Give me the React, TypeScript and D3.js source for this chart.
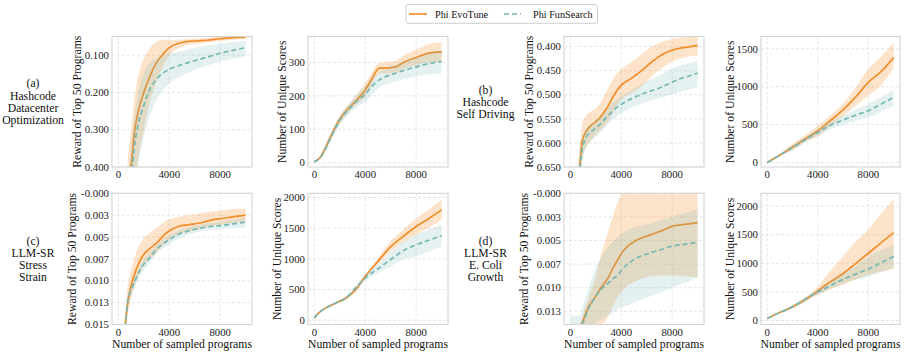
import * as d3 from "d3";

const FONT = "\"Liberation Serif\", \"Times New Roman\", serif";
const ORANGE = "#f28e2b";
const TEAL = "#76b7b2";

const xTicks = [0, 4000, 8000];
const xTickLabels = ["0", "4000", "8000"];

// (a) Hashcode Datacenter Optimization - reward
const xRewardA = [500, 800, 1000, 1250, 1500, 2000, 2500, 3000, 3500, 4000, 5000, 6000, 7000, 8000, 9000, 10000];
const evoRewardA = [0.6, 0.46, 0.4, 0.31, 0.26, 0.2, 0.155, 0.12, 0.098, 0.08, 0.066, 0.062, 0.06, 0.056, 0.053, 0.052];
const evoRewardABest = [0.5, 0.36, 0.3, 0.22, 0.165, 0.11, 0.08, 0.065, 0.058, 0.06, 0.058, 0.056, 0.054, 0.051, 0.049, 0.048];
const evoRewardAWorst = [0.8, 0.62, 0.55, 0.46, 0.39, 0.3, 0.22, 0.17, 0.13, 0.1, 0.078, 0.07, 0.066, 0.062, 0.059, 0.057];
const funRewardA = [0.75, 0.52, 0.44, 0.35, 0.295, 0.235, 0.19, 0.165, 0.148, 0.138, 0.125, 0.115, 0.105, 0.095, 0.087, 0.08];
const funRewardABest = [0.6, 0.42, 0.35, 0.27, 0.21, 0.15, 0.12, 0.108, 0.1, 0.095, 0.088, 0.08, 0.074, 0.069, 0.065, 0.062];
const funRewardAWorst = [0.95, 0.68, 0.58, 0.48, 0.41, 0.32, 0.26, 0.22, 0.195, 0.175, 0.155, 0.14, 0.128, 0.118, 0.11, 0.104];
const yTicksRewardA = [0.1, 0.2, 0.3, 0.4];
const yLabelsRewardA = ["0.100", "0.200", "0.300", "0.400"];

// (a) unique scores
const xUniqueA = [0, 250, 500, 750, 1000, 1500, 2000, 2500, 3000, 3500, 4000, 4500, 5100, 6000, 6400, 7000, 8000, 9000, 10000];
const evoUniqueA = [3, 8, 18, 35, 55, 95, 130, 155, 175, 195, 218, 250, 283, 285, 287, 300, 315, 328, 332];
const evoUniqueAHi = [5, 11, 23, 42, 64, 106, 142, 167, 188, 212, 238, 268, 298, 302, 305, 320, 339, 355, 361];
const evoUniqueALo = [2, 6, 14, 29, 47, 85, 118, 143, 163, 180, 198, 232, 268, 268, 270, 281, 292, 301, 303];
const funUniqueA = [3, 8, 17, 32, 52, 92, 127, 152, 172, 190, 205, 228, 248, 263, 268, 276, 287, 297, 303];
const funUniqueAHi = [5, 11, 22, 40, 62, 104, 140, 166, 190, 212, 230, 252, 270, 288, 294, 303, 316, 328, 337];
const funUniqueALo = [2, 6, 13, 25, 43, 80, 113, 138, 155, 170, 182, 202, 225, 238, 243, 250, 258, 265, 268];
const yTicksUniqueA = [0, 100, 200, 300];

// (b) Hashcode Self Driving - reward
const xRewardB = [600, 700, 800, 900, 1000, 1200, 1600, 2000, 2400, 2900, 3400, 4000, 4800, 5600, 6300, 7000, 7800, 8500, 9200, 10000];
const evoRewardB = [0.7, 0.66, 0.63, 0.6, 0.59, 0.578, 0.564, 0.556, 0.545, 0.526, 0.502, 0.48, 0.466, 0.45, 0.434, 0.42, 0.409, 0.404, 0.401, 0.398];
const evoRewardBBest = [0.66, 0.62, 0.59, 0.565, 0.555, 0.545, 0.535, 0.528, 0.515, 0.49, 0.465, 0.447, 0.432, 0.416, 0.402, 0.392, 0.386, 0.382, 0.38, 0.378];
const evoRewardBWorst = [0.74, 0.7, 0.67, 0.64, 0.625, 0.61, 0.595, 0.582, 0.572, 0.558, 0.535, 0.51, 0.497, 0.482, 0.464, 0.448, 0.434, 0.426, 0.421, 0.418];
const funRewardB = [0.72, 0.67, 0.64, 0.619, 0.605, 0.59, 0.578, 0.569, 0.56, 0.545, 0.532, 0.52, 0.508, 0.499, 0.492, 0.486, 0.476, 0.468, 0.462, 0.455];
const funRewardBBest = [0.68, 0.64, 0.615, 0.595, 0.585, 0.572, 0.562, 0.553, 0.545, 0.528, 0.515, 0.503, 0.49, 0.478, 0.468, 0.46, 0.448, 0.44, 0.435, 0.43];
const funRewardBWorst = [0.76, 0.7, 0.67, 0.645, 0.63, 0.612, 0.597, 0.587, 0.578, 0.563, 0.55, 0.538, 0.527, 0.518, 0.512, 0.507, 0.5, 0.495, 0.49, 0.485];
const yTicksRewardB = [0.4, 0.45, 0.5, 0.55, 0.6, 0.65];
const yLabelsRewardB = ["0.400", "0.450", "0.500", "0.550", "0.600", "0.650"];

// (b) unique scores
const xUniqueB = [0, 1000, 2000, 3000, 4000, 5000, 6000, 7000, 8000, 9000, 10000];
const evoUniqueB = [0, 98, 205, 310, 419, 555, 695, 865, 1060, 1200, 1385];
const evoUniqueBHi = [5, 110, 250, 360, 485, 625, 780, 985, 1236, 1400, 1580];
const evoUniqueBLo = [-5, 85, 160, 270, 345, 480, 610, 750, 883, 1020, 1255];
const funUniqueB = [0, 98, 195, 300, 397, 490, 560, 625, 684, 770, 862];
const funUniqueBHi = [5, 108, 225, 335, 441, 540, 620, 700, 772, 865, 958];
const funUniqueBLo = [-5, 88, 168, 265, 353, 440, 500, 550, 596, 670, 750];
const yTicksUniqueB = [0, 500, 1000, 1500];

// (c) LLM-SR Stress Strain - reward
const xRewardC = [450, 550, 650, 750, 1000, 1400, 1900, 2400, 3000, 3700, 4700, 5500, 6400, 7200, 8000, 9000, 10000];
const evoRewardC = [0.018, 0.015, 0.0135, 0.0124, 0.0106, 0.0087, 0.0072, 0.0064, 0.0057, 0.0046, 0.0038, 0.0036, 0.0034, 0.0031, 0.0029, 0.0027, 0.0025];
const evoRewardCBest = [0.016, 0.0135, 0.0118, 0.0105, 0.0088, 0.0068, 0.0053, 0.0046, 0.004, 0.0032, 0.0027, 0.0025, 0.0023, 0.0021, 0.002, 0.0018, 0.00175];
const evoRewardCWorst = [0.02, 0.0165, 0.015, 0.0138, 0.0121, 0.0101, 0.0085, 0.0076, 0.0068, 0.0056, 0.0047, 0.0044, 0.0041, 0.0038, 0.0036, 0.0034, 0.0032];
const funRewardC = [0.019, 0.0155, 0.0135, 0.0122, 0.0111, 0.0097, 0.0083, 0.0075, 0.0064, 0.0056, 0.0047, 0.0043, 0.004, 0.0038, 0.0037, 0.0035, 0.0033];
const funRewardCBest = [0.018, 0.0148, 0.0128, 0.0116, 0.0105, 0.0091, 0.0077, 0.0069, 0.0059, 0.0051, 0.0043, 0.0039, 0.0036, 0.0034, 0.0033, 0.003, 0.0028];
const funRewardCWorst = [0.02, 0.0162, 0.0142, 0.0129, 0.0117, 0.0103, 0.0089, 0.0081, 0.0069, 0.0061, 0.0052, 0.0047, 0.0044, 0.0042, 0.0041, 0.004, 0.0039];
const yTicksRewardC = [0, 0.0025, 0.005, 0.0075, 0.01, 0.0125, 0.015];
const yLabelsRewardC = ["-0.000", "0.003", "0.005", "0.007", "0.010", "0.013", "0.015"];

// (c) unique scores
const xUniqueC = [0, 400, 900, 1700, 2500, 3300, 4000, 5000, 6000, 7000, 8000, 9000, 10000];
const evoUniqueC = [35, 130, 200, 282, 363, 510, 715, 960, 1200, 1370, 1528, 1660, 1800];
const evoUniqueCHi = [40, 140, 215, 300, 385, 540, 740, 1010, 1290, 1480, 1660, 1810, 1960];
const evoUniqueCLo = [30, 120, 185, 265, 342, 480, 690, 920, 1120, 1270, 1400, 1510, 1640];
const funUniqueC = [35, 130, 200, 280, 365, 540, 688, 840, 990, 1135, 1230, 1305, 1380];
const funUniqueCHi = [40, 140, 215, 300, 390, 580, 740, 920, 1110, 1280, 1393, 1480, 1556];
const funUniqueCLo = [30, 120, 185, 260, 340, 500, 640, 770, 880, 990, 1040, 1120, 1203];
const yTicksUniqueC = [0, 500, 1000, 1500, 2000];

// (d) LLM-SR E. Coli Growth - reward
const xRewardD = [0, 700, 800, 1000, 1400, 1900, 2400, 2900, 3400, 3700, 4100, 4600, 5300, 6300, 7300, 8000, 9000, 10000];
const evoRewardD = [0.03, 0.016, 0.0142, 0.0135, 0.0121, 0.0111, 0.01, 0.0091, 0.0078, 0.0071, 0.0062, 0.0055, 0.0049, 0.0044, 0.0039, 0.0035, 0.0033, 0.0031];
const evoRewardDBest = [0.03, 0.015, 0.0139, 0.0128, 0.0112, 0.0092, 0.0066, 0.0043, 0.0022, 0.001, 0.0, -0.0003, -0.0005, -0.0005, -0.0005, -0.0005, -0.0005, -0.0005];
const evoRewardDWorst = [0.03, 0.018, 0.016, 0.0155, 0.015, 0.0145, 0.014, 0.0132, 0.0118, 0.011, 0.0103, 0.0097, 0.0092, 0.0088, 0.0087, 0.0087, 0.0088, 0.0089];
const funRewardD = [0.016, 0.015, 0.0142, 0.0137, 0.0123, 0.0111, 0.0102, 0.0096, 0.009, 0.0087, 0.008, 0.0074, 0.0068, 0.0063, 0.0059, 0.0056, 0.0054, 0.0052];
const funRewardDBest = [0.013, 0.013, 0.0128, 0.0118, 0.0102, 0.0082, 0.0068, 0.0058, 0.005, 0.0046, 0.0042, 0.0038, 0.0035, 0.0032, 0.0028, 0.0025, 0.0021, 0.0017];
const funRewardDWorst = [0.016, 0.016, 0.016, 0.016, 0.0155, 0.0138, 0.0134, 0.013, 0.0126, 0.0123, 0.0121, 0.0118, 0.0114, 0.0109, 0.0104, 0.01, 0.0095, 0.0089];
const yTicksRewardD = [0, 0.0025, 0.005, 0.0075, 0.01, 0.0125];
const yLabelsRewardD = ["-0.000", "0.003", "0.005", "0.007", "0.010", "0.013"];

// (d) unique scores
const xUniqueD = [0, 750, 1550, 2600, 3650, 4700, 5750, 6800, 8000, 8900, 10000];
const evoUniqueD = [35, 118, 194, 312, 459, 635, 782, 959, 1176, 1341, 1535];
const evoUniqueDHi = [40, 128, 215, 350, 510, 790, 1060, 1330, 1590, 1840, 2130];
const evoUniqueDLo = [30, 108, 175, 275, 410, 520, 610, 700, 800, 850, 900];
const funUniqueD = [35, 115, 190, 315, 459, 576, 694, 794, 900, 1000, 1120];
const funUniqueDHi = [40, 125, 210, 345, 500, 640, 790, 920, 1106, 1220, 1320];
const funUniqueDLo = [30, 105, 172, 285, 420, 520, 620, 700, 760, 840, 920];
const yTicksUniqueD = [0, 500, 1000, 1500, 2000];

const legendNames = ["Phi EvoTune", "Phi FunSearch"];
const rowLabelsA = ["(a)", "Hashcode", "Datacenter", "Optimization"];
const rowLabelsB = ["(b)", "Hashcode", "Self Driving"];
const rowLabelsC = ["(c)", "LLM-SR", "Stress", "Strain"];
const rowLabelsD = ["(d)", "LLM-SR", "E. Coli", "Growth"];

type Series = { x: number[]; mean: number[]; lo: number[]; hi: number[] };
type PanelProps = {
  id: string;
  left: number;
  top: number;
  width: number;
  height: number;
  yDomain: [number, number]; // [bottom, top]
  yTicks: number[];
  yLabels?: string[];
  yTitle: string;
  xTitle: boolean;
  evo: Series;
  fun: Series;
};

const xDomain: [number, number] = [-500, 10500];
const TICK_SIZE = 10.8;
const TITLE_SIZE = 11.7;

function Panel(p: PanelProps) {
  const x = d3.scaleLinear().domain(xDomain).range([p.left, p.left + p.width]);
  const y = d3.scaleLinear().domain(p.yDomain).range([p.top + p.height, p.top]);
  const band = (s: Series) =>
    d3
      .area<number>()
      .x((i) => x(s.x[i]))
      .y0((i) => y(s.lo[i]))
      .y1((i) => y(s.hi[i]))
      .curve(d3.curveMonotoneX)(d3.range(s.x.length)) || "";
  const line = (s: Series) =>
    d3
      .line<number>()
      .x((i) => x(s.x[i]))
      .y((i) => y(s.mean[i]))
      .curve(d3.curveMonotoneX)(d3.range(s.x.length)) || "";
  const labels = p.yLabels || p.yTicks.map((t) => String(t));
  const maxLen = d3.max(labels, (l) => l.length) || 3;
  const titleX = p.left - (4.5 * maxLen + 13);
  const cy = p.top + p.height / 2;
  const txt = { fontFamily: FONT };
  return (
    <g>
      <clipPath id={p.id}>
        <rect x={p.left} y={p.top} width={p.width} height={p.height} />
      </clipPath>
      <g stroke="#e0e0e0" strokeWidth={0.8} strokeDasharray="3,2">
        {xTicks.map((t) => (
          <line key={"gx" + t} x1={x(t)} x2={x(t)} y1={p.top} y2={p.top + p.height} />
        ))}
        {p.yTicks.map((t) => (
          <line key={"gy" + t} x1={p.left} x2={p.left + p.width} y1={y(t)} y2={y(t)} />
        ))}
      </g>
      <g clipPath={`url(#${p.id})`}>
        <path d={band(p.evo)} fill={ORANGE} fillOpacity={0.25} stroke="none" />
        <path d={line(p.evo)} fill="none" stroke={ORANGE} strokeWidth={1.7} />
        <path d={band(p.fun)} fill={TEAL} fillOpacity={0.2} stroke="none" />
        <path d={line(p.fun)} fill="none" stroke={TEAL} strokeWidth={1.7} strokeDasharray="5,3" />
      </g>
      <rect x={p.left} y={p.top} width={p.width} height={p.height} fill="none" stroke="#d4d4d4" strokeWidth={1.1} />
      <g style={txt} fontSize={TICK_SIZE} fill="#222">
        {xTicks.map((t, i) => (
          <text key={"tx" + t} x={x(t)} y={p.top + p.height + 11} textAnchor="middle">
            {xTickLabels[i]}
          </text>
        ))}
        {p.yTicks.map((t, i) => (
          <text key={"ty" + t} x={p.left - 3} y={y(t) + 3.7} textAnchor="end">
            {labels[i]}
          </text>
        ))}
      </g>
      <text
        style={txt}
        fontSize={TITLE_SIZE}
        fill="#111"
        textAnchor="middle"
        transform={`translate(${titleX},${cy}) rotate(-90)`}
        dy="0.35em"
      >
        {p.yTitle}
      </text>
      {p.xTitle && (
        <text style={txt} fontSize={TITLE_SIZE} fill="#111" x={p.left + p.width / 2} y={p.top + p.height + 23.5} textAnchor="middle">
          Number of sampled programs
        </text>
      )}
    </g>
  );
}

function RowLabel({ lines, cx, cy }: { lines: string[]; cx: number; cy: number }) {
  const lh = 12.3;
  const y0 = cy - ((lines.length - 1) * lh) / 2;
  return (
    <g style={{ fontFamily: FONT }} fontSize={TITLE_SIZE} fill="#111" textAnchor="middle">
      {lines.map((l, i) => (
        <text key={l} x={cx} y={y0 + i * lh} dy="0.35em">
          {l}
        </text>
      ))}
    </g>
  );
}

export default function App() {
  const cols = [112, 308, 564, 761];
  const w = 140;
  const rows = [36.5, 193.3];
  const hs = [130.5, 131.2];
  const rewardTitle = "Reward of Top 50 Programs";
  const uniqueTitle = "Number of Unique Scores";
  return (
    <svg width={904} height={360} style={{ position: "absolute", left: 0, top: 0, background: "#fff" }}>
      <rect x={0} y={0} width={904} height={360} fill="#fff" />
      {/* legend */}
      <g style={{ fontFamily: FONT }}>
        <rect x={406} y={4.7} width={191.5} height={18.6} rx={2} fill="#fff" stroke="#c8c8c8" strokeWidth={0.9} />
        <line x1={409} x2={427} y1={14} y2={14} stroke={ORANGE} strokeWidth={1.7} />
        <text x={435} y={17.5} fontSize={10.2} fill="#111">{legendNames[0]}</text>
        <line x1={504} x2={521} y1={14} y2={14} stroke={TEAL} strokeWidth={1.7} strokeDasharray="5,3" />
        <text x={533} y={17.5} fontSize={10.2} fill="#111">{legendNames[1]}</text>
      </g>
      <RowLabel lines={rowLabelsA} cx={33} cy={rows[0] + hs[0] / 2} />
      <RowLabel lines={rowLabelsB} cx={485.5} cy={rows[0] + hs[0] / 2} />
      <RowLabel lines={rowLabelsC} cx={33} cy={rows[1] + hs[1] / 2} />
      <RowLabel lines={rowLabelsD} cx={485.5} cy={rows[1] + hs[1] / 2} />

      <Panel id="pa1" left={cols[0]} top={rows[0]} width={w} height={hs[0]} yDomain={[0.4, 0.05]}
        yTicks={yTicksRewardA} yLabels={yLabelsRewardA} yTitle={rewardTitle} xTitle={false}
        evo={{ x: xRewardA, mean: evoRewardA, lo: evoRewardAWorst, hi: evoRewardABest }}
        fun={{ x: xRewardA, mean: funRewardA, lo: funRewardAWorst, hi: funRewardABest }} />
      <Panel id="pa2" left={cols[1]} top={rows[0]} width={w} height={hs[0]} yDomain={[-13, 378]}
        yTicks={yTicksUniqueA} yTitle={uniqueTitle} xTitle={false}
        evo={{ x: xUniqueA, mean: evoUniqueA, lo: evoUniqueALo, hi: evoUniqueAHi }}
        fun={{ x: xUniqueA, mean: funUniqueA, lo: funUniqueALo, hi: funUniqueAHi }} />
      <Panel id="pb1" left={cols[2]} top={rows[0]} width={w} height={hs[0]} yDomain={[0.65, 0.379]}
        yTicks={yTicksRewardB} yLabels={yLabelsRewardB} yTitle={rewardTitle} xTitle={false}
        evo={{ x: xRewardB, mean: evoRewardB, lo: evoRewardBWorst, hi: evoRewardBBest }}
        fun={{ x: xRewardB, mean: funRewardB, lo: funRewardBWorst, hi: funRewardBBest }} />
      <Panel id="pb2" left={cols[3]} top={rows[0]} width={w - 1} height={hs[0]} yDomain={[-60, 1663]}
        yTicks={yTicksUniqueB} yTitle={uniqueTitle} xTitle={false}
        evo={{ x: xUniqueB, mean: evoUniqueB, lo: evoUniqueBLo, hi: evoUniqueBHi }}
        fun={{ x: xUniqueB, mean: funUniqueB, lo: funUniqueBLo, hi: funUniqueBHi }} />

      <Panel id="pc1" left={cols[0]} top={rows[1]} width={w} height={hs[1]} yDomain={[0.015, 0]}
        yTicks={yTicksRewardC} yLabels={yLabelsRewardC} yTitle={rewardTitle} xTitle={true}
        evo={{ x: xRewardC, mean: evoRewardC, lo: evoRewardCWorst, hi: evoRewardCBest }}
        fun={{ x: xRewardC, mean: funRewardC, lo: funRewardCWorst, hi: funRewardCBest }} />
      <Panel id="pc2" left={cols[1]} top={rows[1]} width={w} height={hs[1]} yDomain={[-70, 2070]}
        yTicks={yTicksUniqueC} yTitle={uniqueTitle} xTitle={true}
        evo={{ x: xUniqueC, mean: evoUniqueC, lo: evoUniqueCLo, hi: evoUniqueCHi }}
        fun={{ x: xUniqueC, mean: funUniqueC, lo: funUniqueCLo, hi: funUniqueCHi }} />
      <Panel id="pd1" left={cols[2]} top={rows[1]} width={w} height={hs[1]} yDomain={[0.0139, 0]}
        yTicks={yTicksRewardD} yLabels={yLabelsRewardD} yTitle={rewardTitle} xTitle={true}
        evo={{ x: xRewardD, mean: evoRewardD, lo: evoRewardDWorst, hi: evoRewardDBest }}
        fun={{ x: xRewardD, mean: funRewardD, lo: funRewardDWorst, hi: funRewardDBest }} />
      <Panel id="pd2" left={cols[3]} top={rows[1]} width={w - 1} height={hs[1]} yDomain={[-70, 2224]}
        yTicks={yTicksUniqueD} yTitle={uniqueTitle} xTitle={true}
        evo={{ x: xUniqueD, mean: evoUniqueD, lo: evoUniqueDLo, hi: evoUniqueDHi }}
        fun={{ x: xUniqueD, mean: funUniqueD, lo: funUniqueDLo, hi: funUniqueDHi }} />
    </svg>
  );
}
